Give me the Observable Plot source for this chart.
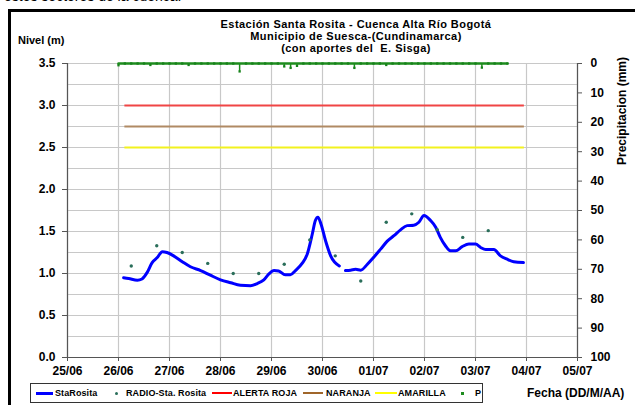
<!DOCTYPE html>
<html><head><meta charset="utf-8">
<script src="https://cdn.jsdelivr.net/npm/d3@7"></script>
<script src="https://cdn.jsdelivr.net/npm/@observablehq/plot@0.6"></script>
<style>
html,body{margin:0;padding:0;background:#fff;}
body{width:635px;height:405px;overflow:hidden;position:relative;font-family:"Liberation Sans",Arial,sans-serif;color:#000;}
.abs{position:absolute;white-space:nowrap;}
.b{font-weight:bold;}
#chart{position:absolute;left:0;top:0;}
.tit{position:absolute;white-space:nowrap;font-weight:bold;font-size:11px;line-height:11px;letter-spacing:0.45px;left:356px;transform:translateX(-50%);}
.leg{position:absolute;font-size:9px;font-weight:bold;line-height:10px;top:388px;letter-spacing:0.1px;}
.legline{position:absolute;top:392px;height:2px;}
</style></head><body>
<div class="abs" style="left:4px;top:-12px;font-size:14px;">estos sectores de la cuenca.</div>
<div class="abs" style="left:8px;top:9px;width:640px;height:3px;background:#000;"></div>
<div class="abs" style="left:8px;top:9px;width:3px;height:400px;background:#000;"></div>
<div id="chart"></div>
<div class="tit" style="top:19px;">Estación Santa Rosita - Cuenca Alta Río Bogotá</div>
<div class="tit" style="top:31px;">Municipio de Suesca-(Cundinamarca)</div>
<div class="tit" style="top:43px;">(con aportes del&nbsp; E. Sisga)</div>
<div class="abs b" style="left:18px;top:34px;font-size:11px;">Nivel (m)</div>
<div class="abs b" style="left:622px;top:111px;font-size:12px;transform:translate(-50%,-50%) rotate(-90deg);">Precipitacion (mm)</div>
<div class="abs b" style="left:527px;top:386px;font-size:12px;">Fecha (DD/M/AA)</div>
<div class="abs" style="left:30px;top:383px;width:451px;height:18px;border:1px solid #333;"></div>
<div class="legline" style="left:36px;width:17px;height:3px;background:#0000ff;"></div>
<div class="leg" style="left:55px;">StaRosita</div>
<div class="abs" style="left:115px;top:392px;width:3px;height:3px;border-radius:2px;background:#2a6e5a;"></div>
<div class="leg" style="left:126px;">RADIO-Sta. Rosita</div>
<div class="legline" style="left:212px;width:20px;background:#ff0000;"></div>
<div class="leg" style="left:233px;">ALERTA ROJA</div>
<div class="legline" style="left:303px;width:20px;background:#a0662a;"></div>
<div class="leg" style="left:326px;">NARANJA</div>
<div class="legline" style="left:375px;width:22px;background:#ffff00;"></div>
<div class="leg" style="left:398px;">AMARILLA</div>
<div class="abs" style="left:461px;top:392px;width:3px;height:3px;background:#1e8c1e;"></div>
<div class="leg" style="left:475px;">P</div>
<script>
// ---- Datos ----
// Nivel StaRosita: días desde 25/06 00:00 y nivel (m); null = hueco en el registro
const nivelDias = [1.10,1.20,1.37,1.46,1.56,1.66,1.76,1.86,1.95,2.08,2.25,2.41,2.61,2.80,3.00,3.20,3.39,3.59,3.72,3.85,3.95,4.05,4.14,4.27,4.37,4.47,4.60,4.70,4.80,4.86,4.91,4.97,5.06,5.16,5.33,
  5.39,
  5.45,5.55,5.65,5.75,5.88,6.00,6.14,6.27,6.40,6.53,6.66,6.79,6.89,6.99,7.12,7.22,7.31,7.41,7.51,7.61,7.74,7.87,8.00,8.10,8.20,8.36,8.49,8.62,8.75,8.94];
const nivelM = [0.95,0.94,0.92,0.935,1.01,1.13,1.19,1.26,1.25,1.21,1.14,1.08,1.035,0.98,0.925,0.89,0.86,0.855,0.88,0.925,0.995,1.035,1.03,0.985,0.985,1.035,1.12,1.23,1.47,1.63,1.67,1.59,1.39,1.21,1.09,
  null,
  1.035,1.04,1.05,1.04,1.11,1.19,1.29,1.385,1.45,1.52,1.57,1.575,1.61,1.69,1.63,1.55,1.43,1.33,1.27,1.27,1.32,1.35,1.35,1.31,1.285,1.285,1.21,1.17,1.14,1.13];
// RADIO-Sta. Rosita: lecturas de las 06:00 y 18:00
const radioFechas = ["26/06 06","26/06 18","27/06 06","27/06 18","28/06 06","28/06 18","29/06 06","29/06 18","30/06 06","30/06 18","01/07 06","01/07 18","02/07 06","02/07 18","03/07 06"];
const radioM = [1.09,1.33,1.25,1.12,1.00,1.00,1.11,1.40,1.21,0.91,1.61,1.71,1.52,1.43,1.51];
// Precipitación P (mm), cada 3 h desde 26/06 00:00
const precipInicio = "26/06 00";
const precipMm = [0.6,0,0,0,0,0.5,0,0,0,0,0,0.5,0,0,0,0,0,0,0,2.7,0,0,0,0,0,0,1.0,1.5,0.8,0,0,0,0,0,0,0,0,1.5,0,0,0,0,0.5,0,0,0,0,0,0,0,0,0,0,0,0,0,0,1.4,0,0,0,0];
// Niveles de alerta (m)
const alertaNombres = ["ALERTA ROJA","NARANJA","AMARILLA"];
const alertaNivel = [3.0, 2.75, 2.5];
const alertaDesde = "26/06 03", alertaHasta = "03/07 23";
// Ejes
const fechaTicks = ["25/06","26/06","27/06","28/06","29/06","30/06","01/07","02/07","03/07","04/07","05/07"];
const nivelTicks = [0,0.5,1.0,1.5,2.0,2.5,3.0,3.5];
const nivelGrid = [0,0.25,0.5,0.75,1,1.25,1.5,1.75,2,2.25,2.5,2.75,3,3.25,3.5];
const precipTicks = [0,10,20,30,40,50,60,70,80,90,100];

// ---- Conversión ----
const año = 2011;
function fecha(s){ // "dd/mm hh"
  const [dm, h] = s.split(" ");
  const [d, m] = dm.split("/").map(Number);
  return new Date(Date.UTC(año, m-1, d, h ? +h : 0));
}
const t0 = fecha("25/06");
const dia = 864e5;
const nivelMax = 3.5, precipMax = 100;
const pToY = p => nivelMax - p * nivelMax / precipMax; // eje derecho invertido

const nivelData = nivelDias.map((d,i) => ({t: new Date(+t0 + d*dia), v: nivelM[i]}));
const radioData = radioFechas.map((s,i) => ({t: fecha(s), v: radioM[i]}));
const p0 = fecha(precipInicio);
const precipData = precipMm.map((p,i) => ({t: new Date(+p0 + i*3*36e5), p}));
const fechaVals = fechaTicks.map(s => fecha(s));

const alertaColor = ["#f04545","#b08a64","#f2f21e"];

const chart = Plot.plot({
  width: 635, height: 405,
  marginLeft: 67, marginRight: 58, marginTop: 63, marginBottom: 48,
  x: {type: "utc", domain: [fechaVals[0], fechaVals[fechaVals.length-1]]},
  y: {domain: [0, nivelMax]},
  style: {fontFamily: "'Liberation Sans', Arial, sans-serif", fontWeight: "bold", fontSize: "12px", color: "#000", background: "transparent", overflow: "visible"},
  marks: [
    Plot.gridY(nivelGrid, {stroke: "#c8c8c8", strokeOpacity: 1, strokeWidth: 1.2}),
    Plot.gridX(fechaVals, {stroke: "#c8c8c8", strokeOpacity: 1, strokeWidth: 1.2}),
    ...alertaNivel.map((n,i) => Plot.ruleY([n], {x1: fecha(alertaDesde), x2: fecha(alertaHasta), stroke: alertaColor[i], strokeWidth: 2})),
    Plot.ruleX(precipData, {x: "t", y1: () => pToY(0), y2: d => pToY(d.p), stroke: "#1e8c1e", strokeWidth: 1.5}),
    Plot.line(precipData, {x: "t", y: () => pToY(0), stroke: "#1e8c1e", strokeWidth: 2.5}),
    Plot.dot(precipData, {x: "t", y: d => pToY(d.p), symbol: "square", r: 1.3, fill: "#16821a"}),
    Plot.line(nivelData, {x: "t", y: "v", stroke: "#0000ff", strokeWidth: 3, curve: "monotone-x"}),
    Plot.dot(radioData, {x: "t", y: "v", r: 1.7, fill: "#2a6e5a"}),
    Plot.ruleX([fechaVals[0], fechaVals[fechaVals.length-1]], {stroke: "#555", strokeWidth: 1.2}),
    Plot.ruleY([0], {stroke: "#555", strokeWidth: 1.2}),
    Plot.axisY(nivelTicks, {anchor: "left", tickSize: 5, tickPadding: 7, tickFormat: d3.format(".1f"), label: null, stroke: "#555"}),
    Plot.axisY(precipTicks.map(pToY), {anchor: "right", tickSize: 4, tickPadding: 9, tickFormat: v => String(Math.round((nivelMax - v) * precipMax / nivelMax)), label: null, stroke: "#555"}),
    Plot.axisX(fechaVals, {tickSize: 4, tickPadding: 5, tickFormat: (d,i) => fechaTicks[i], label: null, stroke: "#555"})
  ]
});
document.getElementById("chart").appendChild(chart);
</script>
</body></html>
